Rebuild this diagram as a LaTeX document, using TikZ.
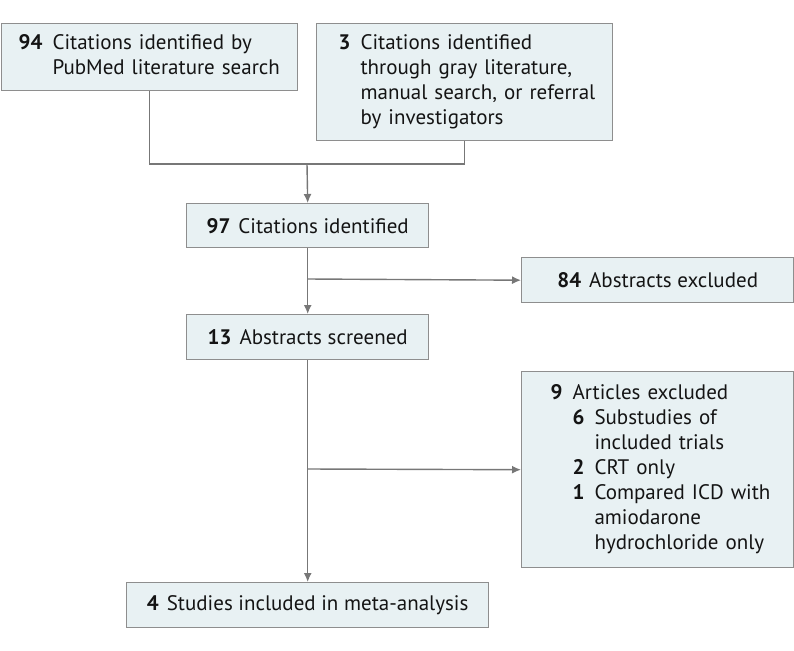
\documentclass[tikz,border=0pt]{standalone}
\usepackage{fontspec}
\setmainfont{PT Sans}
\usetikzlibrary{arrows.meta}
\definecolor{boxfill}{HTML}{E8F1F3}
\definecolor{boxline}{HTML}{8E8E8E}
\definecolor{flowline}{HTML}{777777}
\definecolor{ink}{HTML}{141414}
\tikzset{
  flowbox/.style={draw=boxline,fill=boxfill,line width=1.4pt,anchor=north west,
    text=ink,font=\fontsize{21}{25}\selectfont,inner ysep=0pt},
  flowline/.style={draw=flowline,line width=1.4pt},
  flowarrow/.style={flowline,-{Latex[length=9pt,width=8pt]}}
}
\newcommand{\nb}[1]{\textbf{#1}}
\begin{document}
\begin{tikzpicture}[x=1pt,y=-1pt]
\useasboundingbox(0,0)rectangle(794,650);
%
\node[flowbox,minimum width=296,minimum height=67,inner xsep=17,text width=262,align=left](pubmed)at(1,23)
  {\begin{tabular}{@{}l@{\hspace{10pt}}l@{}}\nb{94}&Citations identified by\\&PubMed literature search\end{tabular}};
\node[flowbox,minimum width=296,minimum height=117,inner xsep=22,text width=252,align=left](gray)at(316,23)
  {\begin{tabular}{@{}l@{\hspace{10pt}}l@{}}\nb{3}&Citations identified\\&through gray literature,\\&manual search, or referral\\&by investigators\end{tabular}};
\node[flowbox,minimum width=242,minimum height=44](ident)at(186,203){\nb{97}\hspace{8pt}Citations identified};
\node[flowbox,minimum width=272,minimum height=45](absexcl)at(521,257){\nb{84}\hspace{8pt}Abstracts excluded};
\node[flowbox,minimum width=242,minimum height=45](screen)at(186,314){\nb{13}\hspace{8pt}Abstracts screened};
\node[flowbox,minimum width=272,minimum height=196,inner xsep=29,text width=214,align=left](artexcl)at(521,371)
  {\begin{tabular}{@{}l@{\hspace{10pt}}l@{\hspace{10pt}}l@{}}
    \nb{9}&\multicolumn{2}{@{}l@{}}{Articles excluded}\\
    &\nb{6}&Substudies of\\
    &&included trials\\
    &\nb{2}&CRT only\\
    &\nb{1}&Compared ICD with\\
    &&amiodarone\\
    &&hydrochloride only
  \end{tabular}};
\node[flowbox,minimum width=362,minimum height=45](incl)at(126,582){\nb{4}\hspace{8pt}Studies included in meta-analysis};
%
\coordinate(join)at(307,164);
\coordinate(split1)at(307,279);
\coordinate(split2)at(307,469);
%
\draw[flowline](pubmed.south)|-(join)-|(gray.south);
\draw[flowarrow](join)--(ident.north);
\draw[flowarrow](ident.south)--(screen.north);
\draw[flowarrow](split1)--(absexcl.west);
\draw[flowarrow](screen.south)--(incl.north);
\draw[flowarrow](split2)--(artexcl.west);
\end{tikzpicture}
\end{document}
